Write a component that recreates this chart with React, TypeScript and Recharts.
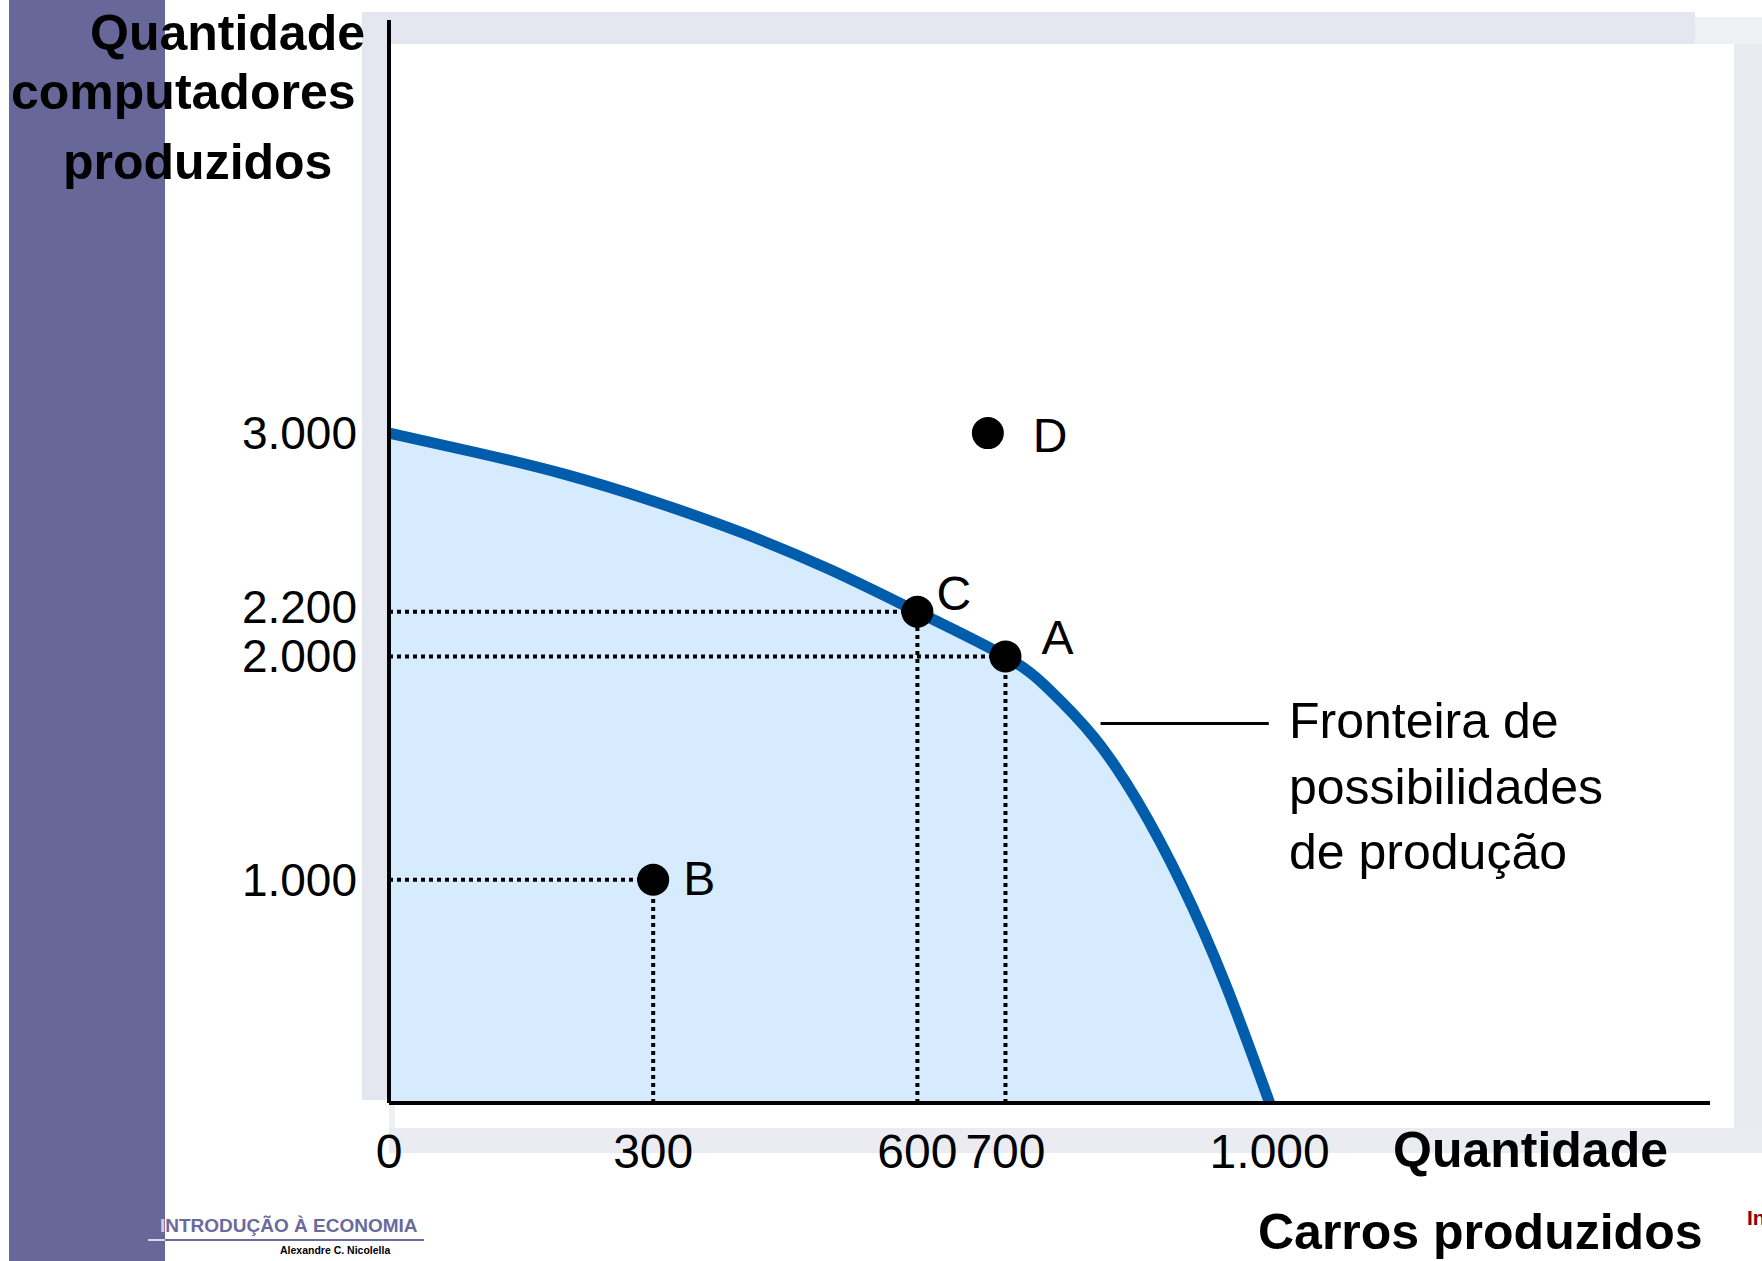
import React from 'react';
import { ComposedChart, Area, Scatter, XAxis, YAxis, ReferenceLine } from 'recharts';

// fronteira de possibilidades de produção
const carros = [0, 100, 200, 300, 400, 500, 600, 700, 750, 800, 850, 900, 950, 1000];
const computadores = [3000, 2912, 2815, 2695, 2555, 2390, 2200, 2000, 1850, 1640, 1350, 980, 530, 0];

// pontos A, B, C, D
const pontos = ['A', 'B', 'C', 'D'];
const pontosCarros = [700, 300, 600, 680];
const pontosComputadores = [2000, 1000, 2200, 3000];

const xTicks = [0, 300, 600, 700, 1000];
const yTicks = [1000, 2000, 2200, 3000];

const frontier = carros.map((x, i) => ({ x, y: computadores[i] }));
const points = pontos.map((name, i) => ({ name, x: pontosCarros[i], y: pontosComputadores[i] }));

const FONT = '"Liberation Sans", Arial, Helvetica, sans-serif';
const W = 1762;
const H = 1261;

// deslocamento do rótulo em relação ao ponto (px)
const labelOffset: Record<string, [number, number]> = {
    A: [36, -2],
    B: [30, 15],
    C: [19, -2],
    D: [45, 19],
};

const fmt = (v: number) => String(v).replace(/\B(?=(\d{3})+(?!\d))/g, '.');

const XTick = (props: any) => {
    const { x, y, payload } = props;
    return (
        <text x={x} y={y + 65} textAnchor="middle" fontSize={48} fontFamily={FONT} fill="#000">
            {fmt(payload.value)}
        </text>
    );
};

const YTick = (props: any) => {
    const { x, y, payload } = props;
    // 2.200 fica um pouco acima, como no slide
    const shift = payload.value === 2200 ? -5 : 0;
    return (
        <text x={x - 32} y={y + 16 + shift} textAnchor="end" fontSize={46} fontFamily={FONT} fill="#000">
            {fmt(payload.value)}
        </text>
    );
};

const PointShape = (props: any) => {
    const { cx, cy, payload } = props;
    const [dx, dy] = labelOffset[payload.name] || [30, 0];
    return (
        <g>
            <circle cx={cx} cy={cy} r={16} fill="#000" />
            <text x={cx + dx} y={cy + dy} fontSize={48} fontFamily={FONT} fill="#000">
                {payload.name}
            </text>
        </g>
    );
};

const dotted = { stroke: '#000', strokeWidth: 4, strokeDasharray: '4 4' };

export default function App() {
    return (
        <div style={{ position: 'absolute', left: 0, top: 0, width: W, height: H, overflow: 'hidden', background: '#fff' }}>
            {/* fundo do slide */}
            <svg width={W} height={H} style={{ position: 'absolute', left: 0, top: 0 }}>
                <rect x={9} y={0} width={156} height={H} fill="#67679a" />
                <rect x={362} y={12} width={1333} height={32} fill="#e4e7ef" />
                <rect x={1695} y={17} width={67} height={27} fill="#eef0f4" />
                <rect x={362} y={44} width={27} height={1056} fill="#e4e7ef" />
                <rect x={1734} y={44} width={28} height={1109} fill="#e8eaf0" />
                <rect x={389} y={1128} width={1373} height={25} fill="#eaecf1" />
                <rect x={389} y={1103} width={6} height={25} fill="#eef0f4" />
            </svg>

            <div style={{ position: 'absolute', left: 0, top: 0 }}>
                <ComposedChart
                    width={W}
                    height={H}
                    data={frontier}
                    margin={{ top: 20, right: 52, bottom: 98, left: 289 }}
                >
                    <XAxis
                        type="number"
                        dataKey="x"
                        domain={[0, 1500]}
                        ticks={xTicks}
                        height={60}
                        tickLine={false}
                        tickSize={0}
                        tickMargin={0}
                        tick={<XTick />}
                        axisLine={{ stroke: '#000', strokeWidth: 4 }}
                        allowDataOverflow
                    />
                    <YAxis
                        type="number"
                        dataKey="y"
                        domain={[0, 4850]}
                        ticks={yTicks}
                        width={100}
                        tickLine={false}
                        tickSize={0}
                        tickMargin={0}
                        tick={<YTick />}
                        axisLine={{ stroke: '#000', strokeWidth: 4 }}
                        allowDataOverflow
                    />
                    <Area
                        type="natural"
                        dataKey="y"
                        baseValue={0}
                        fill="#d6ebfd"
                        fillOpacity={1}
                        stroke="#005dab"
                        strokeWidth={11}
                        dot={false}
                        activeDot={false}
                        isAnimationActive={false}
                    />
                    {/* linhas pontilhadas */}
                    {points.filter(p => p.name !== 'D').map(p => (
                        <ReferenceLine key={'h' + p.name} segment={[{ x: 0, y: p.y }, { x: p.x, y: p.y }]} {...dotted} />
                    ))}
                    {points.filter(p => p.name !== 'D').map(p => (
                        <ReferenceLine key={'v' + p.name} segment={[{ x: p.x, y: 0 }, { x: p.x, y: p.y }]} {...dotted} />
                    ))}
                    <ReferenceLine segment={[{ x: 808, y: 1700 }, { x: 999, y: 1700 }]} stroke="#000" strokeWidth={3} />
                    <Scatter data={points} dataKey="y" shape={<PointShape />} isAnimationActive={false} />
                </ComposedChart>
            </div>

            {/* textos */}
            <svg width={W} height={H} style={{ position: 'absolute', left: 0, top: 0, pointerEvents: 'none' }} fontFamily={FONT}>
                <g fontSize={50} fontWeight="bold" fill="#000">
                    <text x={90} y={50}>Quantidade</text>
                    <text x={11} y={109}>computadores</text>
                    <text x={63} y={179}>produzidos</text>
                    <text x={1393} y={1167}>Quantidade</text>
                    <text x={1258} y={1249}>Carros produzidos</text>
                </g>
                <g fontSize={50} fill="#000">
                    <text x={1289} y={738}>Fronteira de</text>
                    <text x={1289} y={804}>possibilidades</text>
                    <text x={1289} y={869}>de produção</text>
                </g>
                <text x={160} y={1232} fontSize={19} fontWeight="bold" fill="#6a6a9e">
                    <tspan fill="#d0d0e6">I</tspan>NTRODUÇÃO À ECONOMIA
                </text>
                <line x1={148} y1={1240} x2={165} y2={1240} stroke="#d8d8ea" strokeWidth={2} />
                <line x1={165} y1={1240} x2={424} y2={1240} stroke="#6a6a9e" strokeWidth={2} />
                <text x={280} y={1254} fontSize={10.5} fontWeight="bold" fill="#000">Alexandre C. Nicolella</text>
                <text x={1747} y={1225} fontSize={21} fontWeight="bold" fill="#8b0000">In</text>
            </svg>
        </div>
    );
}
